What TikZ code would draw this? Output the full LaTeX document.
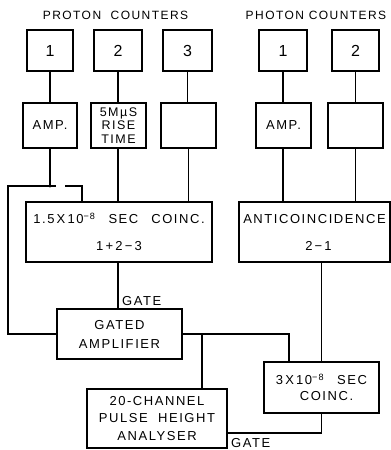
\documentclass[tikz,border=0pt]{standalone}
\usepackage{fontspec}
\setmainfont[LetterSpace=12]{Liberation Sans}
\begin{document}
\begin{tikzpicture}[x=1pt,y=-1pt,
  box/.style={draw, line width=1.1pt, inner sep=0pt, align=center},
  wire/.style={line width=1.1pt},
  lbl/.style={font=\fontsize{13}{15}\selectfont, inner sep=0pt},
  ttl/.style={font=\fontsize{12}{14}\selectfont, inner sep=0pt},
  num/.style={font=\fontsize{16}{18}\selectfont}]
\useasboundingbox (0,0) rectangle (391,450);
% titles
\node[ttl] (t1) at (115.5,15) {PROTON\ \ COUNTERS};
\node[ttl] (t2) at (316,15) {PHOTON COUNTERS};
% counters
\node[box,num,minimum width=46pt,minimum height=41pt] (p1) at (50,50.5) {1};
\node[box,num,minimum width=48pt,minimum height=41pt] (p2) at (118,50.5) {2};
\node[box,num,minimum width=49pt,minimum height=41pt] (p3) at (187.5,50.5) {3};
\node[box,num,minimum width=48pt,minimum height=41pt] (q1) at (283,50.5) {1};
\node[box,num,minimum width=47pt,minimum height=41pt] (q2) at (355.5,50.5) {2};
% second row
\node[box,lbl,minimum width=54pt,minimum height=45pt] (a1) at (50,125.5) {AMP.};
\node[box,minimum width=55pt,minimum height=45pt,font=\fontsize{12.5}{13.5}\selectfont] (a2) at (118.5,125.5) {5MµS\\RISE\\TIME};
\node[box,minimum width=55pt,minimum height=45pt] (a3) at (188.5,125.5) {};
\node[box,lbl,minimum width=55pt,minimum height=45pt] (b1) at (283.5,125.5) {AMP.};
\node[box,minimum width=55pt,minimum height=45pt] (b2) at (355.5,125.5) {};
% coincidence boxes
\node[box,minimum width=186pt,minimum height=60pt,font=\fontsize{13}{27}\selectfont] (co) at (119,232)
  {1.5\,X\,10\textsuperscript{−8}\quad SEC\quad COINC.\\1\,+\,2\,−\,3};
\node[box,minimum width=151pt,minimum height=60pt,font=\fontsize{13}{27}\selectfont] (an) at (314.5,232)
  {ANTICOINCIDENCE\\\hspace*{8pt}2\,−\,1};
% gated amplifier
\node[box,minimum width=125pt,minimum height=50pt,font=\fontsize{13}{19}\selectfont] (ga) at (119.5,334)
  {GATED\\AMPLIFIER};
% 3x10 coinc
\node[box,minimum width=115pt,minimum height=51pt,font=\fontsize{13}{16}\selectfont] (tc) at (321.5,387.5)
  {3\,X\,10\textsuperscript{−8}\quad SEC\\\hspace*{10pt}COINC.};
% 20-channel
\node[box,minimum width=140pt,minimum height=59pt,font=\fontsize{13}{17.5}\selectfont] (ch) at (157,418.5)
  {20-CHANNEL\\PULSE\ \ HEIGHT\\ANALYSER};
% gate labels
\node[lbl,anchor=west] (g1) at (122,301) {GATE};
\node[lbl,anchor=west] (g2) at (231,443) {GATE};
% coordinates
\coordinate (J1) at (50,186);
\coordinate (L1) at (8,186);
\coordinate (H1) at (56,186);
\coordinate (H2) at (65,186);
\coordinate (C1) at (82,186);
\coordinate (J2) at (202,334);
\coordinate (R1) at (289,334);
\coordinate (B1) at (321.5,433);
% wires
\draw[wire] (p1) -- (a1);
\draw[wire] (p2.south) -- (p2.south |- a2.north);
\draw[wire] (p3.south) -- (p3.south |- a3.north);
\draw[wire] (q1.south) -- (q1.south |- b1.north);
\draw[wire] (q2.south) -- (q2.south |- b2.north);
\draw[wire] (a1.south) -- (J1);
\fill (J1) circle (1.6pt);
\draw[wire] (J1) -- (L1) |- (ga.west);
\draw[wire] (J1) -- (H1);
\draw[wire] (H2) -- (C1) -- (C1 |- co.north);
\draw[wire] (a2.south -| p2.south) -- (p2.south |- co.north);
\draw[wire] (a3.south) -- (a3.south |- co.north);
\draw[wire] (q1.south |- b1.south) -- (q1.south |- an.north);
\draw[wire] (q2.south |- b2.south) -- (q2.south |- an.north);
\draw[wire] (co.south -| p2.south) -- (p2.south |- ga.north);
\draw[wire] (ga.east) -- (J2) -- (R1) -- (R1 |- tc.north);
\draw[wire] (J2) -- (J2 |- ch.north);
\draw[wire] (tc.north) -- (tc.north |- an.south);
\draw[wire] (tc.south) -- (B1) -- (B1 -| ch.east);
\end{tikzpicture}
\end{document}
